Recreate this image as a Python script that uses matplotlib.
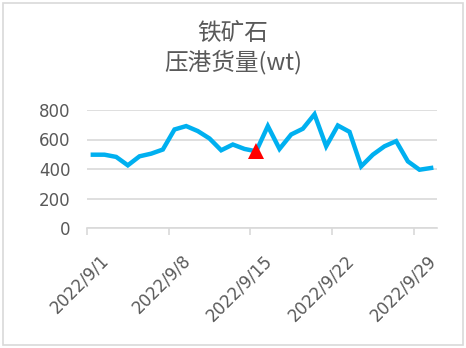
import matplotlib
matplotlib.use("Agg")

import matplotlib.pyplot as plt
import matplotlib.transforms as mtransforms
import pandas as pd
from matplotlib.patches import Rectangle

plt.rcParams["font.family"] = ["DejaVu Sans", "Noto Sans CJK SC"]

# daily port inventory of iron ore, 10k tonnes
dates = pd.date_range("2022-09-01", "2022-09-30", freq="D")
volumes = [497, 497, 482, 425, 486, 504, 532, 668, 691, 657,
           607, 527, 566, 536, 520, 691, 536, 634, 673, 771,
           554, 695, 652, 418, 497, 554, 589, 452, 395, 407]
highlight_date = pd.Timestamp("2022-09-15")
tick_dates = pd.to_datetime(["2022-09-01", "2022-09-08", "2022-09-15",
                             "2022-09-22", "2022-09-29"])
y_ticks = [0, 200, 400, 600, 800]

text_color = "#595959"
grid_color = "#d9d9d9"

fig = plt.figure(figsize=(4.66, 3.48), dpi=100)
ax = fig.add_axes([87 / 466, 120 / 348, 350 / 466, 118 / 348])

# x measured in days from the first date; points sit in the middle of each day
start = dates[0]
xs = [(d - start).days + 0.5 for d in dates]
ax.plot(xs, volumes, color="#00B0F0", lw=3.2, solid_joinstyle="miter", zorder=3)

hi = list(dates).index(highlight_date)
ax.plot(xs[hi], volumes[hi], marker="^", color="#ff0000", markersize=12,
        markeredgewidth=0, zorder=4)

ax.set_xlim(0, len(dates))
ax.set_ylim(0, 800)

ax.set_yticks(y_ticks)
ax.yaxis.grid(True, color=grid_color, lw=1.2)
ax.set_axisbelow(True)

ax.set_xticks([(d - start).days for d in tick_dates])
ax.set_xticklabels([f"{d.year}/{d.month}/{d.day}" for d in tick_dates])

for side in ("top", "right", "left"):
    ax.spines[side].set_visible(False)
ax.spines["bottom"].set_color(grid_color)
ax.spines["bottom"].set_linewidth(1.2)

ax.tick_params(axis="y", length=0, pad=12, labelsize=12, labelcolor=text_color)
ax.tick_params(axis="x", length=5, width=1.2, color=grid_color, pad=12,
               labelsize=12, labelcolor=text_color)

shift = mtransforms.ScaledTranslation(0.13, 0, fig.dpi_scale_trans)
for label in ax.get_xticklabels():
    label.set_rotation(45)
    label.set_ha("right")
    label.set_va("top")
    label.set_rotation_mode("anchor")
    label.set_transform(label.get_transform() + shift)

fig.text(0.5, 1 - 48 / 348, "铁矿石\n压港货量(wt)", ha="center", va="center",
         fontsize=17, color=text_color, linespacing=1.25,
         family=["Noto Sans CJK SC", "DejaVu Sans"], fontweight="light")

fig.patches.append(Rectangle((3 / 466, 3 / 348), 460 / 466, 342 / 348,
                             transform=fig.transFigure, fill=False,
                             edgecolor=grid_color, lw=1.2))

fig.savefig("out.png", dpi=100)
